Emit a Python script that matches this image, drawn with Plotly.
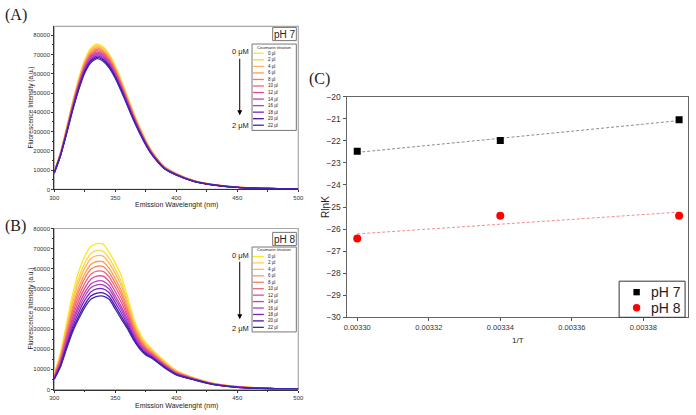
import numpy as np
import plotly.graph_objects as go

W, H = 696, 415
def X(p): return p / W
def Y(p): return 1 - p / H

# ---------------- data ----------------
wavelength_nm = [300, 305, 310, 315, 320, 325, 330, 335, 340, 345, 350, 355, 360, 365, 370, 375, 380, 390, 400, 415, 430, 450, 475, 500]
titration_labels = ["0 µl", "2 µl", "4 µl", "6 µl", "8 µl", "10 µl", "12 µl", "14 µl", "16 µl", "18 µl", "20 µl", "22 µl"]
line_colors = ["#FFE81C", "#FFD04A", "#FFB858", "#FF9A4C", "#FA7A5A", "#EE6478",
               "#E04896", "#C83CB0", "#A840C8", "#7A22C0", "#4A14A8", "#3A28B0"]

# pH 7 emission spectra (a.u.)
ph7_00ul = [9400, 18900, 31700, 45300, 57400, 67200, 73200, 75500, 74000, 70200, 64200, 56600, 48300, 40000, 32500, 25700, 20000, 12100, 8300, 4500, 2600, 1200, 500, 300]
ph7_02ul = [9300, 18700, 31400, 44900, 56900, 66600, 72500, 74800, 73300, 69600, 63600, 56100, 47900, 39600, 32200, 25500, 19800, 12000, 8200, 4500, 2600, 1200, 500, 300]
ph7_04ul = [9200, 18600, 31100, 44500, 56300, 66000, 71800, 74100, 72600, 68900, 63000, 55600, 47400, 39300, 31900, 25200, 19600, 11900, 8100, 4400, 2600, 1200, 500, 300]
ph7_06ul = [9100, 18400, 30800, 44000, 55800, 65300, 71200, 73400, 71900, 68300, 62400, 55000, 47000, 38900, 31600, 25000, 19400, 11800, 8100, 4400, 2500, 1200, 500, 300]
ph7_08ul = [9100, 18200, 30500, 43600, 55300, 64700, 70500, 72700, 71300, 67600, 61800, 54500, 46500, 38500, 31300, 24700, 19300, 11700, 8000, 4300, 2500, 1200, 500, 300]
ph7_10ul = [9000, 18000, 30200, 43200, 54700, 64100, 69800, 72000, 70600, 67000, 61200, 54000, 46100, 38200, 31000, 24500, 19100, 11500, 7900, 4300, 2500, 1100, 500, 300]
ph7_12ul = [8900, 17900, 29900, 42800, 54200, 63500, 69100, 71300, 69900, 66300, 60600, 53500, 45600, 37800, 30700, 24300, 18900, 11400, 7800, 4200, 2500, 1100, 500, 300]
ph7_14ul = [8800, 17700, 29600, 42400, 53700, 62800, 68500, 70600, 69200, 65700, 60000, 52900, 45200, 37400, 30400, 24000, 18700, 11300, 7800, 4200, 2400, 1100, 500, 300]
ph7_16ul = [8700, 17500, 29300, 41900, 53100, 62200, 67800, 69900, 68500, 65000, 59400, 52400, 44700, 37000, 30100, 23800, 18500, 11200, 7700, 4200, 2400, 1100, 500, 300]
ph7_18ul = [8600, 17300, 29100, 41500, 52600, 61600, 67100, 69200, 67800, 64400, 58800, 51900, 44300, 36700, 29800, 23600, 18300, 11100, 7600, 4100, 2400, 1100, 500, 300]
ph7_20ul = [8500, 17200, 28800, 41100, 52100, 61000, 66400, 68500, 67200, 63700, 58300, 51400, 43800, 36300, 29500, 23300, 18200, 11000, 7500, 4100, 2400, 1100, 500, 300]
ph7_22ul = [8400, 17000, 28500, 40700, 51500, 60400, 65700, 67800, 66500, 63100, 57700, 50800, 43400, 35900, 29200, 23100, 18000, 10900, 7500, 4000, 2300, 1100, 400, 300]

# pH 8 emission spectra (a.u.)
ph8_00ul = [8000, 18000, 32600, 47200, 58500, 66100, 71000, 72500, 72200, 68200, 62900, 56400, 46400, 35600, 28300, 23400, 20200, 14400, 9500, 5800, 3200, 1500, 600, 300]
ph8_02ul = [7600, 17100, 30900, 44700, 55400, 62700, 67500, 69000, 68700, 65100, 59800, 53500, 44200, 34100, 27200, 22600, 19600, 13900, 9200, 5700, 3100, 1400, 600, 300]
ph8_04ul = [7300, 16400, 29700, 42900, 53100, 60300, 65000, 66500, 66300, 62800, 57700, 51500, 42700, 33100, 26400, 22000, 19100, 13600, 9000, 5500, 3000, 1400, 600, 300]
ph8_06ul = [7000, 15600, 28300, 40800, 50500, 57500, 62100, 63600, 63400, 60200, 55100, 49100, 40900, 31900, 25500, 21300, 18600, 13200, 8800, 5400, 3000, 1400, 600, 300]
ph8_08ul = [6700, 15000, 27200, 39100, 48400, 55200, 59700, 61200, 61100, 58100, 53000, 47200, 39400, 30900, 24800, 20700, 18200, 12900, 8600, 5300, 2900, 1300, 600, 300]
ph8_10ul = [6400, 14300, 26000, 37400, 46200, 52800, 57300, 58800, 58700, 56000, 50900, 45200, 37900, 29800, 24100, 20200, 17700, 12600, 8300, 5200, 2800, 1300, 500, 300]
ph8_12ul = [6100, 13700, 24800, 35600, 44000, 50400, 54800, 56300, 56300, 53700, 48700, 43200, 36400, 28800, 23300, 19600, 17300, 12300, 8100, 5100, 2800, 1300, 500, 300]
ph8_14ul = [5900, 13000, 23700, 33900, 41800, 48100, 52400, 53900, 53900, 51600, 46600, 41200, 34900, 27800, 22500, 19000, 16900, 12000, 7900, 5000, 2700, 1200, 500, 300]
ph8_16ul = [5700, 12500, 22700, 32600, 40100, 46200, 50500, 52000, 52000, 49900, 45000, 39700, 33700, 27000, 22000, 18600, 16500, 11700, 7800, 4900, 2700, 1200, 500, 300]
ph8_18ul = [5400, 12000, 21800, 31100, 38300, 44300, 48500, 50000, 50000, 48100, 43200, 38000, 32500, 26200, 21300, 18100, 16200, 11500, 7600, 4900, 2600, 1200, 500, 300]
ph8_20ul = [5200, 11400, 20800, 29600, 36400, 42200, 46400, 47900, 48000, 46200, 41400, 36300, 31200, 25300, 20700, 17600, 15800, 11200, 7400, 4800, 2500, 1100, 500, 300]
ph8_22ul = [5000, 11000, 20000, 28500, 35000, 40700, 44800, 46300, 46400, 44800, 40000, 35000, 30200, 24600, 20200, 17200, 15500, 11000, 7300, 4700, 2500, 1100, 500, 300]

ph7_spectra = [ph7_00ul, ph7_02ul, ph7_04ul, ph7_06ul, ph7_08ul, ph7_10ul,
               ph7_12ul, ph7_14ul, ph7_16ul, ph7_18ul, ph7_20ul, ph7_22ul]
ph8_spectra = [ph8_00ul, ph8_02ul, ph8_04ul, ph8_06ul, ph8_08ul, ph8_10ul,
               ph8_12ul, ph8_14ul, ph8_16ul, ph8_18ul, ph8_20ul, ph8_22ul]

# Panel C: van 't Hoff data
inv_T = [0.00330, 0.00334, 0.00339]
rlnk_ph7 = [-22.47, -21.98, -21.04]
rlnk_ph8 = [-26.43, -25.40, -25.40]
series_names = ["pH 7", "pH 8"]

# ---------------- figure ----------------
fig = go.Figure()

for spec, lab, col in zip(ph7_spectra, titration_labels, line_colors):
    fig.add_trace(go.Scatter(x=wavelength_nm, y=spec, mode="lines", name=lab,
                             line=dict(color=col, width=1.3, shape="spline", smoothing=0.6),
                             showlegend=False, xaxis="x", yaxis="y"))
for spec, lab, col in zip(ph8_spectra, titration_labels, line_colors):
    fig.add_trace(go.Scatter(x=wavelength_nm, y=spec, mode="lines", name=lab,
                             line=dict(color=col, width=1.3, shape="spline", smoothing=0.6),
                             showlegend=False, xaxis="x2", yaxis="y2"))

# linear fits for panel C
fit_x = [inv_T[0], inv_T[-1]]
c7 = np.polyfit(inv_T, rlnk_ph7, 1)
c8 = np.polyfit(inv_T, rlnk_ph8, 1)
fig.add_trace(go.Scatter(x=fit_x, y=np.polyval(c7, fit_x), mode="lines", showlegend=False,
                         line=dict(color="#808080", width=0.9, dash="3px,2px"), xaxis="x3", yaxis="y3"))
fig.add_trace(go.Scatter(x=fit_x, y=np.polyval(c8, fit_x), mode="lines", showlegend=False,
                         line=dict(color="#F08080", width=0.9, dash="3px,2px"), xaxis="x3", yaxis="y3"))
fig.add_trace(go.Scatter(x=inv_T, y=rlnk_ph7, mode="markers", name=series_names[0], showlegend=False,
                         marker=dict(symbol="square", color="black", size=7), xaxis="x3", yaxis="y3"))
fig.add_trace(go.Scatter(x=inv_T, y=rlnk_ph8, mode="markers", name=series_names[1], showlegend=False,
                         marker=dict(symbol="circle", color="red", size=8), xaxis="x3", yaxis="y3"))

tickfont_small = dict(size=6, color="#333", family="Liberation Sans, Arial")
spec_x = dict(range=[300, 500], tickvals=[300, 350, 400, 450, 500], ticks="outside", ticklen=2,
              tickcolor="#333", tickfont=tickfont_small, showline=True, linecolor="#333", linewidth=1,
              showgrid=False, zeroline=False,
              minor=dict(ticks="outside", ticklen=1.5, tickcolor="#333", dtick=25, tick0=300))
spec_y = dict(tickvals=list(range(0, 80001, 10000)), tickformat="d", ticks="outside", ticklen=2,
              tickcolor="#333", tickfont=tickfont_small, showline=True, linecolor="#333", linewidth=1,
              showgrid=False, zeroline=False,
              minor=dict(ticks="outside", ticklen=1.5, tickcolor="#333", dtick=5000, tick0=0))

A_dx = [X(50), X(298)]
A_dy = [Y(189), Y(22)]
B_dy = [Y(394), Y(229)]
C_dx = [X(347), X(694)]
C_dy = [Y(320), Y(94)]

fig.update_layout(
    width=W, height=H, margin=dict(l=0, r=0, t=0, b=0),
    plot_bgcolor="white", paper_bgcolor="white",
    font=dict(family="Liberation Sans, Arial", color="#222"),
    xaxis=dict(domain=A_dx, anchor="y", **spec_x),
    yaxis=dict(domain=A_dy, anchor="x", range=[0, 84500], **spec_y),
    xaxis2=dict(domain=A_dx, anchor="y2", **spec_x),
    yaxis2=dict(domain=B_dy, anchor="x2", range=[0, 80000], **spec_y),
    xaxis3=dict(domain=C_dx, anchor="y3", range=[0.003297, 0.0033925], tick0=0.0033, dtick=0.00002,
                tickformat=".5f", ticks="outside", ticklen=3, tickcolor="#555",
                tickfont=dict(size=7.5, color="#333"), showline=True, mirror=True,
                linecolor="#666", linewidth=1, showgrid=False, zeroline=False),
    yaxis3=dict(domain=C_dy, anchor="x3", range=[-30, -20], dtick=1, ticks="outside", ticklen=3,
                tickcolor="#555", tickfont=dict(size=8.5, color="#333"), showline=True, mirror=True,
                linecolor="#666", linewidth=1, showgrid=False, zeroline=False),
    showlegend=False,
)

shapes = []
annotations = []

# grey frames for spectra panels
for xr, yr in [("x", "y"), ("x2", "y2")]:
    shapes.append(dict(type="rect", xref=xr + " domain", yref=yr + " domain", x0=0, x1=1, y0=0, y1=1,
                       line=dict(color="#A8A8A8", width=1.2), layer="below"))

def txt(x, y, s, size, **kw):
    d = dict(x=X(x), y=Y(y), xref="paper", yref="paper", text=s, showarrow=False,
             xanchor="center", yanchor="middle",
             font=dict(size=size, color=kw.pop("color", "#222"), family=kw.pop("family", "Liberation Sans, Arial")))
    d.update(kw)
    annotations.append(d)

# panel letters
txt(11, 10, "(A)", 16, family="Liberation Serif, Times New Roman")
txt(11, 226, "(B)", 16, family="Liberation Serif, Times New Roman")
txt(320, 76, "(C)", 16, family="Liberation Serif, Times New Roman")

for (top, bot, xt_y, ph, ph_top, leg_top, leg_bot, title_y, e0, step, ar0, ar1, t0, t1) in [
        (22, 189, 205, "pH 7", 23, 40, 128.5, 43.5, 49.5, 6.7, 55, 113, 48, 123),
        (229, 394, 411, "pH 8", 233, 248, 335, 250.5, 257.7, 6.6, 263, 322, 257, 331)]:
    txt(174, xt_y, "Emission Wavelenght (nm)", 7)
    txt(26, (top + bot) / 2, "Fluorescence Intensity (a.u.)", 6.5, textangle=-90)
    # pH box
    shapes.append(dict(type="rect", xref="paper", yref="paper", x0=X(272), x1=X(296),
                       y0=Y(ph_top + 13.5), y1=Y(ph_top), line=dict(color="#777", width=1),
                       fillcolor="white"))
    txt(284, ph_top + 7, ph, 10)
    # titration legend box
    shapes.append(dict(type="rect", xref="paper", yref="paper", x0=X(251), x1=X(296),
                       y0=Y(leg_bot), y1=Y(leg_top), line=dict(color="#777", width=1),
                       fillcolor="white"))
    txt(273.5, title_y, "Coumarin titration", 4.3)
    for i, (lab, col) in enumerate(zip(titration_labels, line_colors)):
        yy = e0 + step * i
        shapes.append(dict(type="line", xref="paper", yref="paper", x0=X(252), x1=X(263),
                           y0=Y(yy), y1=Y(yy), line=dict(color=col, width=1.3)))
        txt(265, yy, lab, 4.5, xanchor="left")
    # concentration arrow
    annotations.append(dict(x=X(238.5), y=Y(ar1), ax=0, ay=ar0 - ar1, xref="paper", yref="paper",
                            axref="pixel", ayref="pixel", text="", showarrow=True, arrowhead=2,
                            arrowsize=1, arrowwidth=1, arrowcolor="black"))
    txt(239, t0, "0 μM", 7.5)
    txt(239, t1, "2 μM", 7.5)

# panel C titles
txt(521, 344, "1/T", 8)
txt(325, 207, "RlnK", 10, textangle=-90)

# panel C legend (drawn as a boxed key)
shapes.append(dict(type="rect", xref="paper", yref="paper", x0=X(624), x1=X(691), y0=Y(320), y1=Y(283),
                   line=dict(color="#333", width=1), fillcolor="white"))
shapes.append(dict(type="rect", xref="paper", yref="paper", x0=X(638.5), x1=X(645), y0=Y(297.5), y1=Y(291),
                   line=dict(width=0), fillcolor="black"))
shapes.append(dict(type="circle", xref="paper", yref="paper", x0=X(638), x1=X(645.5), y0=Y(314), y1=Y(306.5),
                   line=dict(width=0), fillcolor="red"))
txt(689, 294, series_names[0], 14, xanchor="right")
txt(689, 310.5, series_names[1], 14, xanchor="right")

fig.update_layout(shapes=shapes, annotations=annotations)
fig.write_html("out.html")
